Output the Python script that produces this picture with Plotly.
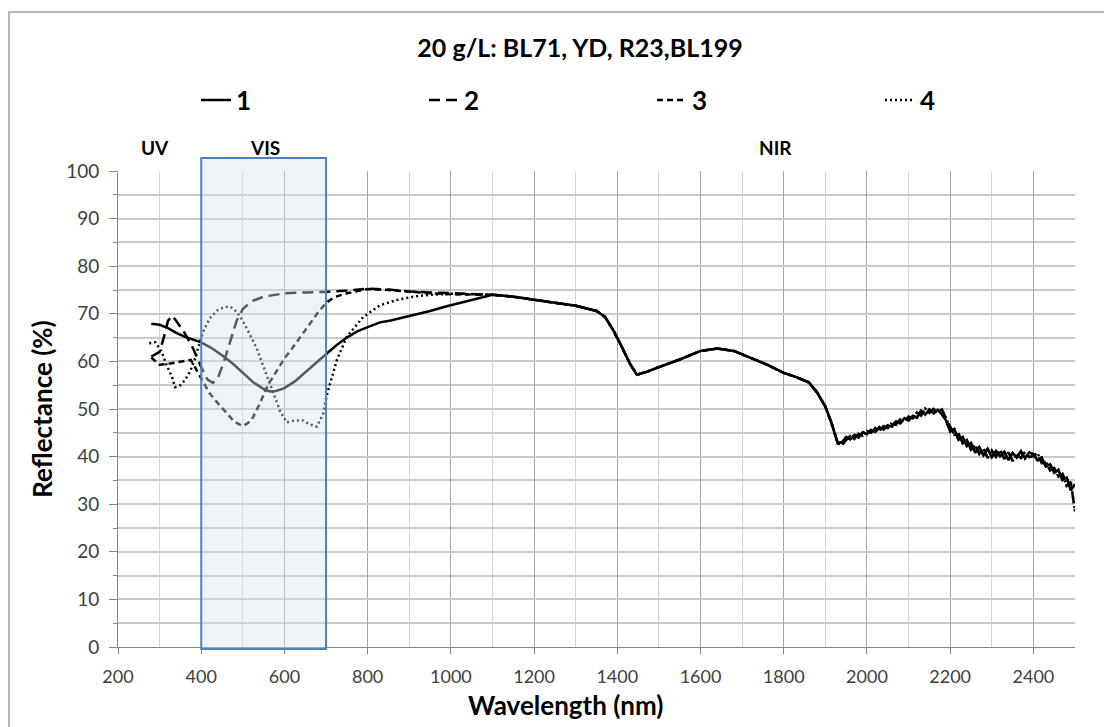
import plotly.graph_objects as go

# ---------------- data ----------------
series_names = ["1", "2", "3", "4"]

# UV-VIS part of each series (differs per sample)
wl_1 = [280, 300, 320, 340, 360, 380, 400, 425, 450, 475, 500, 525, 550, 565, 580, 600, 625, 650, 675, 700,
        725, 750, 775, 800, 830, 855, 880, 910, 950, 990, 1050]
r_1 = [67.9, 67.7, 67.0, 66.0, 65.2, 64.6, 64.0, 62.8, 61.3, 59.6, 57.5, 55.6, 54.2, 53.7, 53.8, 54.4, 55.8, 57.6,
       59.6, 61.5, 63.4, 65.0, 66.3, 67.2, 68.2, 68.6, 69.1, 69.7, 70.6, 71.6, 72.9]

wl_2 = [280, 300, 310, 320, 330, 340, 360, 380, 400, 415, 428, 440, 455, 470, 485, 500, 520, 550, 600, 650, 700,
        750, 800, 850, 900, 950, 1000, 1050]
r_2 = [61.0, 62.0, 65.0, 68.5, 69.6, 68.5, 66.0, 62.8, 58.8, 56.2, 55.5, 56.5, 60.0, 64.5, 68.5, 71.0, 72.6, 73.6,
       74.3, 74.5, 74.6, 74.9, 75.3, 75.1, 74.7, 74.5, 74.3, 74.2]

wl_3 = [280, 300, 320, 340, 360, 375, 390, 400, 420, 440, 460, 480, 500, 520, 540, 560, 580, 600, 620, 640, 660,
        680, 700, 720, 750, 800, 850, 900, 950, 1000, 1050]
r_3 = [60.8, 59.3, 59.5, 59.8, 60.2, 60.3, 58.0, 56.5, 53.3, 51.2, 49.3, 47.3, 46.4, 47.5, 51.0, 55.0, 57.8, 60.6,
       62.9, 65.3, 67.8, 70.2, 72.3, 73.5, 74.3, 75.2, 75.0, 74.6, 74.3, 74.1, 74.0]

wl_4 = [275, 290, 305, 317, 330, 337, 350, 361, 373, 385, 395, 405, 420, 440, 455, 470, 485, 500, 515, 533, 550,
        573, 590, 605, 625, 645, 660, 678, 693, 702, 710, 726, 750, 790, 830, 870, 910, 950, 1000, 1050]
r_4 = [63.8, 64.0, 62.0, 59.2, 56.7, 54.6, 55.0, 56.1, 57.8, 60.5, 63.5, 66.3, 69.0, 70.8, 71.4, 71.5, 70.5, 68.5,
       66.0, 62.8, 58.8, 53.3, 49.5, 47.2, 47.6, 47.6, 46.8, 46.3, 49.0, 53.0, 55.4, 60.3, 65.2, 69.4, 71.8, 72.9,
       73.6, 74.0, 74.2, 74.1]

# NIR part shared by all samples (smooth region)
wl_nir = [1100, 1150, 1200, 1250, 1300, 1350, 1370, 1390, 1410, 1430, 1447, 1470, 1500, 1550, 1600, 1640, 1680,
          1720, 1760, 1800, 1830, 1860, 1880, 1900, 1915, 1930]
r_nir = [74.0, 73.6, 72.9, 72.3, 71.7, 70.6, 69.4, 66.6, 63.2, 59.6, 57.2, 57.8, 58.8, 60.4, 62.2, 62.7, 62.2,
         60.8, 59.3, 57.6, 56.7, 55.6, 53.5, 50.5, 47.0, 42.8]

# noisy far-NIR part, two readings (samples 1,3 and samples 2,4)
wl_far = [1940, 1950, 1960, 1970, 1980, 1990, 2000, 2010, 2020, 2030, 2040, 2050, 2060, 2070, 2080, 2090, 2100,
          2110, 2120, 2130, 2140, 2150, 2160, 2170, 2180, 2190, 2200, 2210, 2220, 2230, 2240, 2250, 2260, 2270,
          2280, 2290, 2300, 2310, 2320, 2330, 2340, 2350, 2360, 2370, 2380, 2390, 2400, 2410, 2420, 2430, 2440,
          2450, 2460, 2470, 2480, 2490, 2500]
r_far_a = [43.0, 44.1, 43.6, 44.5, 44.0, 45.1, 44.7, 45.6, 45.2, 46.2, 45.7, 46.6, 46.3, 47.4, 47.0, 48.1, 47.6,
           48.6, 48.2, 49.6, 48.8, 49.9, 49.1, 49.8, 48.9, 47.6, 45.3, 45.8, 43.5, 44.1, 42.2, 42.9, 40.8, 42.0,
           40.3, 41.6, 39.9, 41.2, 40.1, 41.0, 39.3, 40.8, 39.8, 41.1, 39.6, 40.9, 40.5, 39.2, 39.8, 37.9, 38.4,
           36.6, 37.2, 35.1, 35.6, 32.9, 34.2]
r_far_b = [42.4, 43.5, 44.3, 43.7, 44.8, 44.4, 45.4, 45.0, 46.0, 45.5, 46.4, 46.0, 47.1, 46.7, 47.8, 47.3, 48.4,
           48.0, 49.3, 48.6, 50.1, 49.2, 50.0, 49.3, 49.9, 48.0, 46.4, 44.6, 44.9, 42.8, 43.5, 41.5, 42.4, 40.6,
           41.8, 39.7, 41.3, 40.0, 41.4, 39.5, 40.9, 39.1, 40.5, 39.7, 41.0, 39.9, 40.1, 40.8, 38.6, 38.9, 37.1,
           37.6, 35.8, 36.4, 33.9, 34.6, 28.5]

# axis ticks & annotations
x_range = [200, 2500]
y_range = [0, 100]
x_ticks = list(range(200, 2401, 200))
y_ticks = list(range(0, 101, 10))
vis_band = [400, 700]
region_labels = ["UV", "VIS", "NIR"]
region_pos = [289, 553, 1779]

title_text = "20 g/L: BL71, YD, R23,BL199"

# ---------------- figure ----------------
FONT = "Lato, 'Open Sans', sans-serif"
dashes = ["solid", "11px,6px", "6px,4px", "2px,3px"]
uvvis = [(wl_1, r_1), (wl_2, r_2), (wl_3, r_3), (wl_4, r_4)]
far = [r_far_a, r_far_b, r_far_a, r_far_b]

fig = go.Figure()
for i, name in enumerate(series_names):
    wl, r = uvvis[i]
    fig.add_trace(go.Scatter(
        x=wl + wl_nir + wl_far,
        y=r + r_nir + far[i],
        mode="lines", name=name,
        line=dict(color="black", width=2.5, dash=dashes[i]),
    ))

W, H = 1104, 727
L, R, T, B = 118, 29, 171, 80
pw, ph = W - L - R, H - T - B

def px_to_paper_y(py):
    return (H - B - py) / ph

def px_to_paper_x(px):
    return (px - L) / pw

fig.update_layout(
    width=W, height=H,
    margin=dict(l=L, r=R, t=T, b=B, autoexpand=False),
    paper_bgcolor="white", plot_bgcolor="white",
    font=dict(family=FONT, size=18, color="#404040"),
    title=dict(text=title_text, x=580 / W, xref="container", xanchor="center",
               y=1 - 48 / H, yref="container", yanchor="middle",
               font=dict(family=FONT, size=25, color="black", weight="bold")),
    showlegend=True,
    legend=dict(orientation="h", xref="container", x=196 / W, xanchor="left",
                yref="container", y=1 - 100 / H, yanchor="middle",
                entrywidth=183, entrywidthmode="pixels",
                font=dict(family=FONT, size=26, color="black", weight="bold"),
                bgcolor="rgba(0,0,0,0)", itemwidth=30),
    xaxis=dict(range=x_range, tickvals=x_ticks, showgrid=True, gridcolor="#a6a6a6", gridwidth=1,
               minor=dict(dtick=100, tick0=200, showgrid=True, gridcolor="#d4d4d4", gridwidth=1, ticks=""),
               ticks="outside", ticklen=6, tickcolor="#868686", ticklabelstandoff=7,
               showline=True, linecolor="#868686", linewidth=1, zeroline=False,
               tickfont=dict(family=FONT, size=18, color="#404040")),
    yaxis=dict(range=y_range, tickvals=y_ticks, showgrid=True, gridcolor="#cacaca", gridwidth=1.5,
               minor=dict(dtick=5, tick0=0, showgrid=True, gridcolor="#cacaca", gridwidth=1.5,
                          ticks="outside", ticklen=4, tickcolor="#868686"),
               ticks="outside", ticklen=8, tickcolor="#868686", ticklabelstandoff=6,
               showline=True, linecolor="#868686", linewidth=1, zeroline=False,
               tickfont=dict(family=FONT, size=19, color="#404040"),
               title=dict(text="Reflectance (%)", standoff=6,
                          font=dict(family=FONT, size=26, color="black", weight="bold"))),
)

# x-axis title
fig.add_annotation(text="Wavelength (nm)", xref="paper", yref="paper",
                   x=px_to_paper_x(565), y=px_to_paper_y(705), xanchor="center", yanchor="middle",
                   showarrow=False, font=dict(family=FONT, size=26, color="black", weight="bold"))

# VIS band rectangle (semi-transparent overlay above the curves)
fig.add_shape(type="rect", xref="paper", yref="paper",
              x0=(vis_band[0] - x_range[0]) / (x_range[1] - x_range[0]),
              x1=(vis_band[1] - x_range[0]) / (x_range[1] - x_range[0]),
              y0=px_to_paper_y(649), y1=px_to_paper_y(158),
              fillcolor="rgba(212,225,237,0.4)", line=dict(color="#4f81bd", width=2), layer="above")

# region labels
for lab, pos in zip(region_labels, region_pos):
    fig.add_annotation(text=lab, x=pos, xref="x", y=px_to_paper_y(148), yref="paper",
                       showarrow=False, xanchor="center", yanchor="middle",
                       font=dict(family=FONT, size=19, color="black", weight="bold"))

# chart-area border (Excel-like frame)
fig.add_shape(type="rect", xref="paper", yref="paper",
              x0=px_to_paper_x(9), x1=px_to_paper_x(1110), y0=px_to_paper_y(735), y1=px_to_paper_y(12),
              line=dict(color="#a0a0a0", width=1.5), fillcolor="rgba(0,0,0,0)", layer="below")

fig.write_html("out.html")
